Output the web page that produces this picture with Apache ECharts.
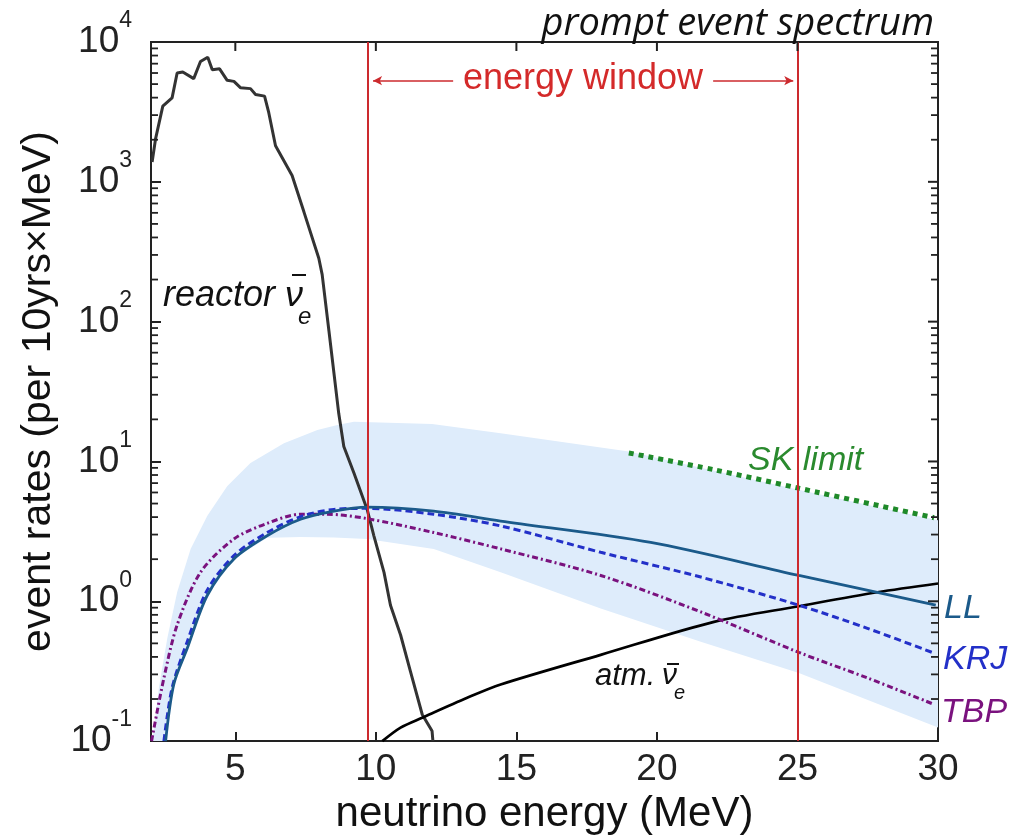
<!DOCTYPE html>
<html>
<head>
<meta charset="utf-8">
<script src="https://cdn.jsdelivr.net/npm/echarts@6/dist/echarts.min.js"></script>
<style>
html,body{margin:0;padding:0;background:#fff;}
#chart{width:1020px;height:840px;}
</style>
</head>
<body>
<div id="chart"></div>
<script>
// ---------------- data ----------------
const xTicks = [5, 10, 15, 20, 25, 30];
const yMin = 0.1, yMax = 10000;
const yMajorTicks = [0.1, 1, 10, 100, 1000, 10000];
const minorTickValues = [0.2,0.3,0.4,0.5,0.6,0.7,0.8,0.9,2,3,4,5,6,7,8,9,20,30,40,50,60,70,80,90,200,300,400,500,600,700,800,900,2000,3000,4000,5000,6000,7000,8000,9000];

const reactorX = [2.04,2.16,2.42,2.75,2.93,3.13,3.52,3.76,4.02,4.18,4.44,4.71,4.95,5.19,5.54,5.72,6.04,6.19,6.43,7.02,7.44,7.97,8.09,8.33,8.68,8.86,9.22,9.69,9.93,10.29,10.52,10.88,11.23,11.65,12.0,12.03];
const reactorY = [1387,2018,3475,3985,5995,6100,5470,7250,7790,6330,6430,5320,5230,4700,4640,4210,4100,3120,1810,1110,610,284,217,86,22,12.8,8.26,4.54,2.94,1.61,0.937,0.574,0.315,0.155,0.118,0.1];

const atmX = [10.23,10.88,11.65,13.25,14.44,18.0,22.03,25.05,27.84,30];
const atmY = [0.1,0.125,0.147,0.204,0.254,0.414,0.713,0.922,1.16,1.34];

const llX = [2.52,2.81,3.29,4.0,4.95,6.13,7.32,8.51,9.69,12.06,14.44,19.78,25.05,27.84,29.92];
const llY = [0.1,0.254,0.461,1.10,2.01,2.94,3.86,4.42,4.72,4.42,3.75,2.64,1.53,1.16,0.937];

const krjX = [2.46,2.75,3.29,4.0,4.95,6.13,7.32,8.51,9.69,12.06,14.44,18.0,21.56,25.05,27.49,29.86];
const krjY = [0.1,0.24,0.514,1.20,2.12,3.10,4.03,4.54,4.62,4.19,3.46,2.24,1.49,0.937,0.64,0.426];

const tbpX = [2.02,2.46,2.93,3.76,4.95,6.13,7.32,8.27,9.69,12.06,14.44,18.0,21.56,25.05,27.49,29.86];
const tbpY = [0.1,0.283,0.676,1.61,2.79,3.61,4.19,4.19,3.90,3.10,2.37,1.53,0.839,0.431,0.283,0.183];

const skX = [19.0,22.03,25.0,29.86];
const skY = [11.5,8.73,6.47,3.96];

const bandUpperX = [2.05,2.28,2.58,2.93,3.41,4.0,4.71,5.54,6.73,7.92,8.63,9.22,12.0,14.44,19.0,25.0,30];
const bandUpperY = [0.1,0.24,0.543,1.16,2.37,4.07,6.65,9.73,13.5,16.8,18.2,19.2,18.5,15.9,11.8,6.3,3.8];
const bandLowerX = [2.05,2.52,2.81,3.29,4.0,4.95,6.13,6.6,7.32,8.51,9.69,12.06,14.44,18.0,21.56,25.05,30];
const bandLowerY = [0.1,0.1,0.254,0.461,1.10,2.01,2.85,2.86,2.88,2.86,2.79,2.37,1.61,0.887,0.514,0.307,0.125];

const windowEdges = [9.7, 25];
const arrowLevel = 5290;
const leftArrow = [12.75, 9.9];
const rightArrow = [22.0, 24.85];

// ---------------- chart ----------------
const xMin = 2, xMax = 30;
const pair = (xs, ys) => xs.map((x, i) => [x, ys[i]]);
const FONT = 'Liberation Sans, Arial, sans-serif';
const chart = echarts.init(document.getElementById('chart'), null, {renderer: 'canvas'});

const labelGraphics = [
  {type: 'text', x: 583, y: 79, style: {text: 'energy window', font: '36px "Liberation Sans", Arial', fill: '#d42a2a', align: 'center', verticalAlign: 'middle'}},
  // reactor anti-nu_e
  {type: 'text', x: 163, y: 296, style: {text: 'reactor \u03bd', font: 'italic 36px "Liberation Sans", Arial', fill: '#111', align: 'left', verticalAlign: 'middle'}},
  {type: 'line', shape: {x1: 292, y1: 275, x2: 306, y2: 275}, style: {stroke: '#111', lineWidth: 2}},
  {type: 'text', x: 298, y: 317, style: {text: 'e', font: 'italic 24px "Liberation Sans", Arial', fill: '#111', align: 'left', verticalAlign: 'middle'}},
  // atm anti-nu_e
  {type: 'text', x: 595, y: 676, style: {text: 'atm.', font: 'italic 31px "Liberation Sans", Arial', fill: '#111', align: 'left', verticalAlign: 'middle'}},
  {type: 'text', x: 662, y: 676, style: {text: '\u03bd', font: 'italic 30px "Liberation Sans", Arial', fill: '#111', align: 'left', verticalAlign: 'middle'}},
  {type: 'line', shape: {x1: 667, y1: 664, x2: 679, y2: 664}, style: {stroke: '#111', lineWidth: 2}},
  {type: 'text', x: 674, y: 693, style: {text: 'e', font: 'italic 20px "Liberation Sans", Arial', fill: '#111', align: 'left', verticalAlign: 'middle'}},
  // model labels
  {type: 'text', x: 748, y: 461, style: {text: 'SK limit', font: 'italic 34px "Liberation Sans", Arial', fill: '#2a8a2e', align: 'left', verticalAlign: 'middle'}},
  {type: 'text', x: 944, y: 609, style: {text: 'LL', font: 'italic 34px "Liberation Sans", Arial', fill: '#1b5a8a', align: 'left', verticalAlign: 'middle'}},
  {type: 'text', x: 943, y: 660, style: {text: 'KRJ', font: 'italic 34px "Liberation Sans", Arial', fill: '#2330c8', align: 'left', verticalAlign: 'middle'}},
  {type: 'text', x: 941, y: 713, style: {text: 'TBP', font: 'italic 34px "Liberation Sans", Arial', fill: '#7a127e', align: 'left', verticalAlign: 'middle'}}
];

const option = {
  backgroundColor: '#ffffff',
  animation: false,
  title: {
    text: 'prompt event spectrum',
    right: 86, top: 5, padding: 0,
    textStyle: {fontFamily: 'Open Sans', fontStyle: 'italic', fontWeight: 'normal', fontSize: 38, color: '#111'}
  },
  grid: {left: 151, right: 82, top: 42, bottom: 93, show: true, borderColor: '#222', borderWidth: 2, backgroundColor: 'transparent'},
  xAxis: {
    type: 'value', min: xMin, max: xMax,
    name: 'neutrino energy (MeV)', nameLocation: 'middle', nameGap: 42,
    nameTextStyle: {fontFamily: FONT, fontSize: 42, color: '#111'},
    axisLine: {show: true, lineStyle: {color: '#222', width: 2}},
    axisTick: {show: true, inside: true, length: 9, lineStyle: {color: '#222', width: 2}, customValues: xTicks},
    axisLabel: {show: true, margin: 10, fontFamily: FONT, fontSize: 37, color: '#222', customValues: xTicks},
    splitLine: {show: false}
  },
  yAxis: {
    type: 'log', logBase: 10, min: yMin, max: yMax,
    name: 'event rates (per 10yrs\u00d7MeV)', nameLocation: 'middle', nameGap: 92,
    nameTextStyle: {fontFamily: FONT, fontSize: 41, color: '#111'},
    axisLine: {show: true, lineStyle: {color: '#222', width: 2}},
    axisTick: {show: true, inside: true, length: 10, lineStyle: {color: '#222', width: 2}},
    axisLabel: {
      show: true, margin: 19,
      formatter: v => '{b|10}{s|' + Math.round(Math.log10(v)) + '}',
      rich: {
        b: {fontFamily: FONT, fontSize: 37, color: '#222', padding: [14, 0, 14, 0]},
        s: {fontFamily: FONT, fontSize: 23, color: '#222', verticalAlign: 'top', lineHeight: 24}
      }
    },
    splitLine: {show: false}
  },
  series: [
    {
      name: 'band', type: 'custom', clip: true, z: 1,
      data: [[2, 1]],
      renderItem: (params, api) => {
        const up = bandUpperX.map((x, i) => api.coord([x, bandUpperY[i]]));
        const lo = bandLowerX.map((x, i) => api.coord([x, bandLowerY[i]])).reverse();
        return {type: 'polygon', shape: {points: up.concat(lo)}, style: {fill: '#deecfb'}};
      }
    },
    {
      name: 'reactor', type: 'line', data: pair(reactorX, reactorY), showSymbol: false, z: 3,
      lineStyle: {color: '#333', width: 3}
    },
    {
      name: 'atm', type: 'line', data: pair(atmX, atmY), showSymbol: false, smooth: 0.3, z: 3,
      lineStyle: {color: '#000', width: 2.7}
    },
    {
      name: 'TBP', type: 'line', data: pair(tbpX, tbpY), showSymbol: false, smooth: 0.3, z: 3,
      lineStyle: {color: '#7a127e', width: 3, type: [6, 3, 2, 3]}
    },
    {
      name: 'KRJ', type: 'line', data: pair(krjX, krjY), showSymbol: false, smooth: 0.3, z: 3,
      lineStyle: {color: '#2330c8', width: 3, type: [7, 4]}
    },
    {
      name: 'LL', type: 'line', data: pair(llX, llY), showSymbol: false, smooth: 0.3, z: 3,
      lineStyle: {color: '#1b5a8a', width: 2.8}
    },
    {
      name: 'SK', type: 'line', data: pair(skX, skY), showSymbol: false, smooth: 0.3, z: 3,
      lineStyle: {color: '#1f8a2a', width: 5, type: [5, 5], cap: 'butt'}
    },
    {
      name: 'window', type: 'line', data: [], z: 6,
      markLine: {
        silent: true, animation: false,
        label: {show: false},
        lineStyle: {color: '#cc2a2e', width: 2, type: 'solid'},
        data: [
          [{coord: [windowEdges[0], yMin], symbol: 'none'}, {coord: [windowEdges[0], yMax], symbol: 'none'}],
          [{coord: [windowEdges[1], yMin], symbol: 'none'}, {coord: [windowEdges[1], yMax], symbol: 'none'}],
          [{coord: [leftArrow[0], arrowLevel], symbol: 'none', lineStyle: {width: 1.5}}, {coord: [leftArrow[1], arrowLevel], symbol: 'arrow', symbolSize: [7, 9]}],
          [{coord: [rightArrow[0], arrowLevel], symbol: 'none', lineStyle: {width: 1.5}}, {coord: [rightArrow[1], arrowLevel], symbol: 'arrow', symbolSize: [7, 9]}]
        ]
      }
    }
  ]
};
chart.setOption(option);

// frame ticks (top, right, and log minor ticks), placed through the chart's own scales
const tickGraphics = [];
const tick = (x1, y1, x2, y2, w) => tickGraphics.push({type: 'line', z: 100, shape: {x1, y1, x2, y2}, style: {stroke: '#222', lineWidth: w}});
try {
  xTicks.slice(0, 5).forEach(x => {
    const p = chart.convertToPixel({gridIndex: 0}, [x, yMax]);
    tick(p[0], p[1], p[0], p[1] + 9, 2);
  });
  yMajorTicks.slice(1, 5).forEach(v => {
    const p = chart.convertToPixel({gridIndex: 0}, [xMax, v]);
    tick(p[0] - 10, p[1], p[0], p[1], 2);
  });
  minorTickValues.forEach(v => {
    const a = chart.convertToPixel({gridIndex: 0}, [xMin, v]);
    const b = chart.convertToPixel({gridIndex: 0}, [xMax, v]);
    tick(a[0], a[1], a[0] + 7, a[1], 1.8);
    tick(b[0] - 7, b[1], b[0], b[1], 1.8);
  });
} catch (e) { /* leave frame without extra ticks */ }
chart.setOption({graphic: labelGraphics.concat(tickGraphics)});
</script>
</body>
</html>
